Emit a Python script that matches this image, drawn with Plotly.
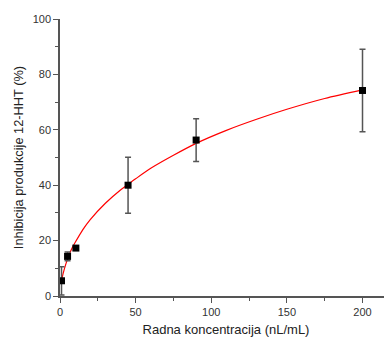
import plotly.graph_objects as go

# measured points
conc = [1, 5, 10.5, 45, 90, 200]
inhib = [5.5, 14.3, 17.3, 40.0, 56.3, 74.2]
inhib_err = [5.1, 1.6, 0.8, 10.1, 7.7, 14.9]

# fitted curve
fit_x = [0.8, 2, 4, 6, 8, 10, 15, 20, 30, 40, 45, 50, 60, 75, 90, 110, 130, 150, 175, 200]
fit_y = [5.0, 8.0, 11.8, 14.8, 17.3, 19.3, 23.9, 27.6, 33.5, 38.3, 40.3, 42.3, 46.1, 50.8, 55.1, 59.8, 63.8, 67.4, 71.3, 74.4]

x_ticks = [0, 50, 100, 150, 200]
y_ticks = [0, 20, 40, 60, 80, 100]

fig = go.Figure()
fig.add_trace(go.Scatter(x=fit_x, y=fit_y, mode="lines",
                         line=dict(color="#ff0000", width=1.2, shape="spline", smoothing=0.8),
                         hoverinfo="skip", showlegend=False))
fig.add_trace(go.Scatter(x=conc, y=inhib, mode="markers",
                         marker=dict(symbol="square", size=7, color="#000000"),
                         error_y=dict(type="data", array=inhib_err, visible=True,
                                      color="#555555", thickness=1.5, width=3),
                         showlegend=False))

font_family = "Liberation Sans, Arial, sans-serif"
axis_common = dict(showline=True, linecolor="#555555", linewidth=1.5,
                   showgrid=False, zeroline=False, ticks="outside", ticklen=5,
                   tickwidth=1.2, tickcolor="#555555",
                   tickfont=dict(family=font_family, size=11, color="#333333"))

# page body has an 8px margin, so the figure is offset by 8px
fig.update_layout(
    width=384, height=329,
    margin=dict(l=52, r=0, t=11, b=41),
    paper_bgcolor="white", plot_bgcolor="white",
    xaxis=dict(range=[0, 219.5], tickvals=x_ticks,
               minor=dict(dtick=25, tick0=0, ticks="outside", ticklen=3, tickcolor="#555555"),
               title=dict(text="Radna koncentracija (nL/mL)", standoff=8,
                          font=dict(family=font_family, size=13, color="#222222")),
               **axis_common),
    yaxis=dict(range=[0, 100], tickvals=y_ticks,
               minor=dict(dtick=10, tick0=0, ticks="outside", ticklen=3, tickcolor="#555555"),
               title=dict(text="Inhibicija produkcije 12-HHT (%)", standoff=6,
                          font=dict(family=font_family, size=12.8, color="#222222")),
               **axis_common),
)

fig.write_html("out.html")
